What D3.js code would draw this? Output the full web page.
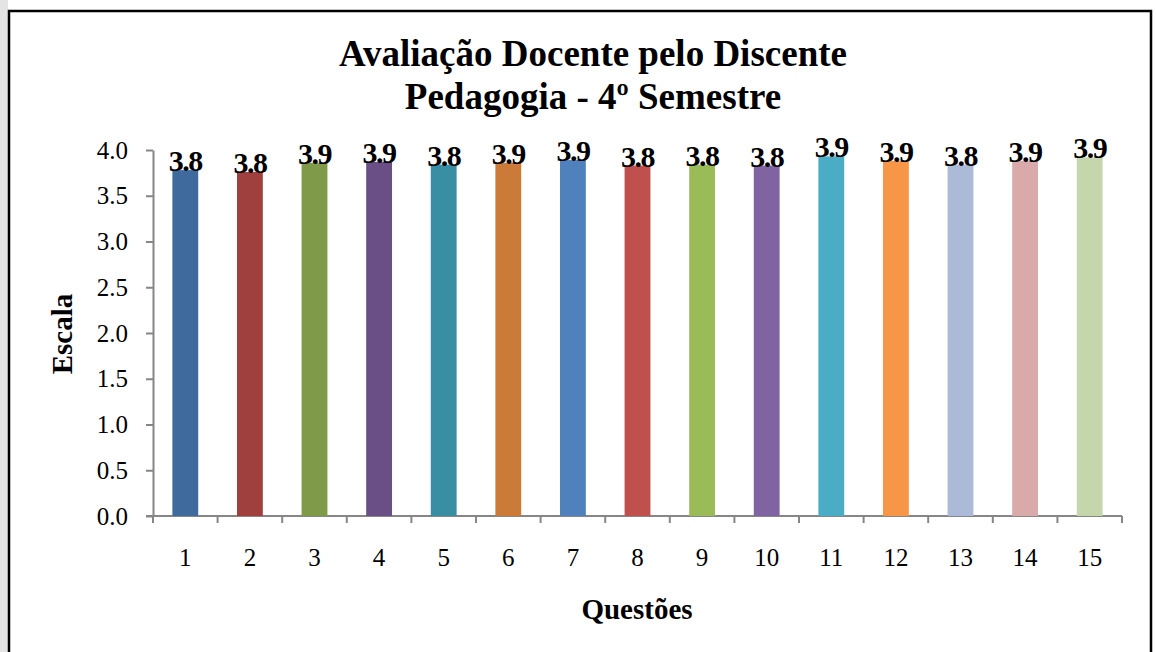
<!DOCTYPE html>
<html>
<head>
<meta charset="utf-8">
<script src="https://cdn.jsdelivr.net/npm/d3@7"></script>
<style>
    body { margin: 0; background: #ffffff; }
    svg { display: block; font-family: "Liberation Serif", "Times New Roman", serif; }
</style>
</head>
<body>
<div id="chart"></div>
<script>
// chart data
const questions = ["1", "2", "3", "4", "5", "6", "7", "8", "9", "10", "11", "12", "13", "14", "15"];
const scores = [3.78, 3.76, 3.86, 3.87, 3.84, 3.86, 3.89, 3.83, 3.84, 3.83, 3.93, 3.88, 3.84, 3.88, 3.92];
const yTicks = [0, 0.5, 1.0, 1.5, 2.0, 2.5, 3.0, 3.5, 4.0];
const barColors = ["#3f6a9d", "#a0403e", "#7f9a48", "#6a4f87", "#3a8ea4", "#cc7a38", "#4f81bd", "#c0504d",
    "#9bbb59", "#8064a2", "#4bacc6", "#f79646", "#aabad7", "#d9aaa9", "#c6d6ac"];
const titleLines = ["Avaliação Docente pelo Discente", "Pedagogia - 4º Semestre"];

window.onload = () => {
    var width = 1156;
    var height = 652;
    var left = 153, right = 1122, top = 150, bottom = 516;

    var svg = d3.select("#chart")
        .append("svg")
        .attr("width", width)
        .attr("height", height);

    // grey strip at the left edge of the page scan
    svg.append("rect")
        .attr("x", 0).attr("y", 0)
        .attr("width", 8).attr("height", height)
        .attr("fill", "#e4e4e4");

    // outer frame
    svg.append("rect")
        .attr("x", 9).attr("y", 11)
        .attr("width", 1142).attr("height", 660)
        .attr("fill", "#ffffff")
        .attr("stroke", "#000")
        .attr("stroke-width", 2.5);

    var x = d3.scaleBand()
        .domain(questions)
        .range([left, right])
        .paddingInner(0.6)
        .paddingOuter(0.3);

    var y = d3.scaleLinear()
        .domain([0, 4])
        .range([bottom, top]);

    // title
    svg.selectAll("text.title")
        .data(titleLines)
        .enter()
        .append("text")
        .attr("class", "title")
        .attr("x", 593)
        .attr("y", (_, i) => 66 + i * 43)
        .attr("text-anchor", "middle")
        .attr("font-size", 37)
        .attr("font-weight", "bold")
        .text(d => d);

    // y axis
    var yAxis = svg.append("g")
        .attr("transform", `translate(${left},0)`)
        .call(d3.axisLeft(y).tickValues(yTicks).tickFormat(d3.format(".1f")).tickSize(7).tickSizeOuter(0).tickPadding(18));
    yAxis.select(".domain").attr("stroke", "#868686").attr("stroke-width", 2);
    yAxis.selectAll(".tick line").attr("stroke", "#868686").attr("stroke-width", 2);
    yAxis.selectAll(".tick text")
        .attr("font-size", 25)
        .attr("font-family", "Liberation Serif, Times New Roman, serif")
        .attr("fill", "#000");

    // x axis: ticks between the categories
    var bandStep = (right - left) / questions.length;
    var xBounds = d3.range(questions.length + 1).map(i => left + i * bandStep);
    svg.append("line")
        .attr("x1", left - 7).attr("x2", right)
        .attr("y1", bottom).attr("y2", bottom)
        .attr("stroke", "#868686").attr("stroke-width", 2);
    svg.selectAll("line.xtick")
        .data(xBounds)
        .enter()
        .append("line")
        .attr("class", "xtick")
        .attr("x1", d => d).attr("x2", d => d)
        .attr("y1", bottom).attr("y2", bottom + 7)
        .attr("stroke", "#868686").attr("stroke-width", 2);
    svg.selectAll("text.xlabel")
        .data(questions)
        .enter()
        .append("text")
        .attr("class", "xlabel")
        .attr("x", d => x(d) + x.bandwidth() / 2)
        .attr("y", 566)
        .attr("text-anchor", "middle")
        .attr("font-size", 25)
        .text(d => d);

    // bars
    svg.selectAll("rect.bar")
        .data(scores)
        .enter()
        .append("rect")
        .attr("class", "bar")
        .attr("x", (_, i) => x(questions[i]))
        .attr("y", d => y(d))
        .attr("width", x.bandwidth())
        .attr("height", d => y(0) - y(d))
        .attr("fill", (_, i) => barColors[i]);

    // value labels
    svg.selectAll("text.value")
        .data(scores)
        .enter()
        .append("text")
        .attr("class", "value")
        .attr("x", (_, i) => x(questions[i]) + x.bandwidth() / 2)
        .attr("y", d => y(d) + 1)
        .attr("text-anchor", "middle")
        .attr("font-size", 30)
        .attr("font-weight", "bold")
        .attr("letter-spacing", -1.5)
        .text(d => d3.format(".1f")(d));

    // axis titles
    svg.append("text")
        .attr("x", 637)
        .attr("y", 619)
        .attr("text-anchor", "middle")
        .attr("font-size", 29)
        .attr("font-weight", "bold")
        .text("Questões");

    svg.append("text")
        .attr("transform", "translate(72,334) rotate(-90)")
        .attr("text-anchor", "middle")
        .attr("font-size", 29)
        .attr("font-weight", "bold")
        .text("Escala");
};
</script>
</body>
</html>
